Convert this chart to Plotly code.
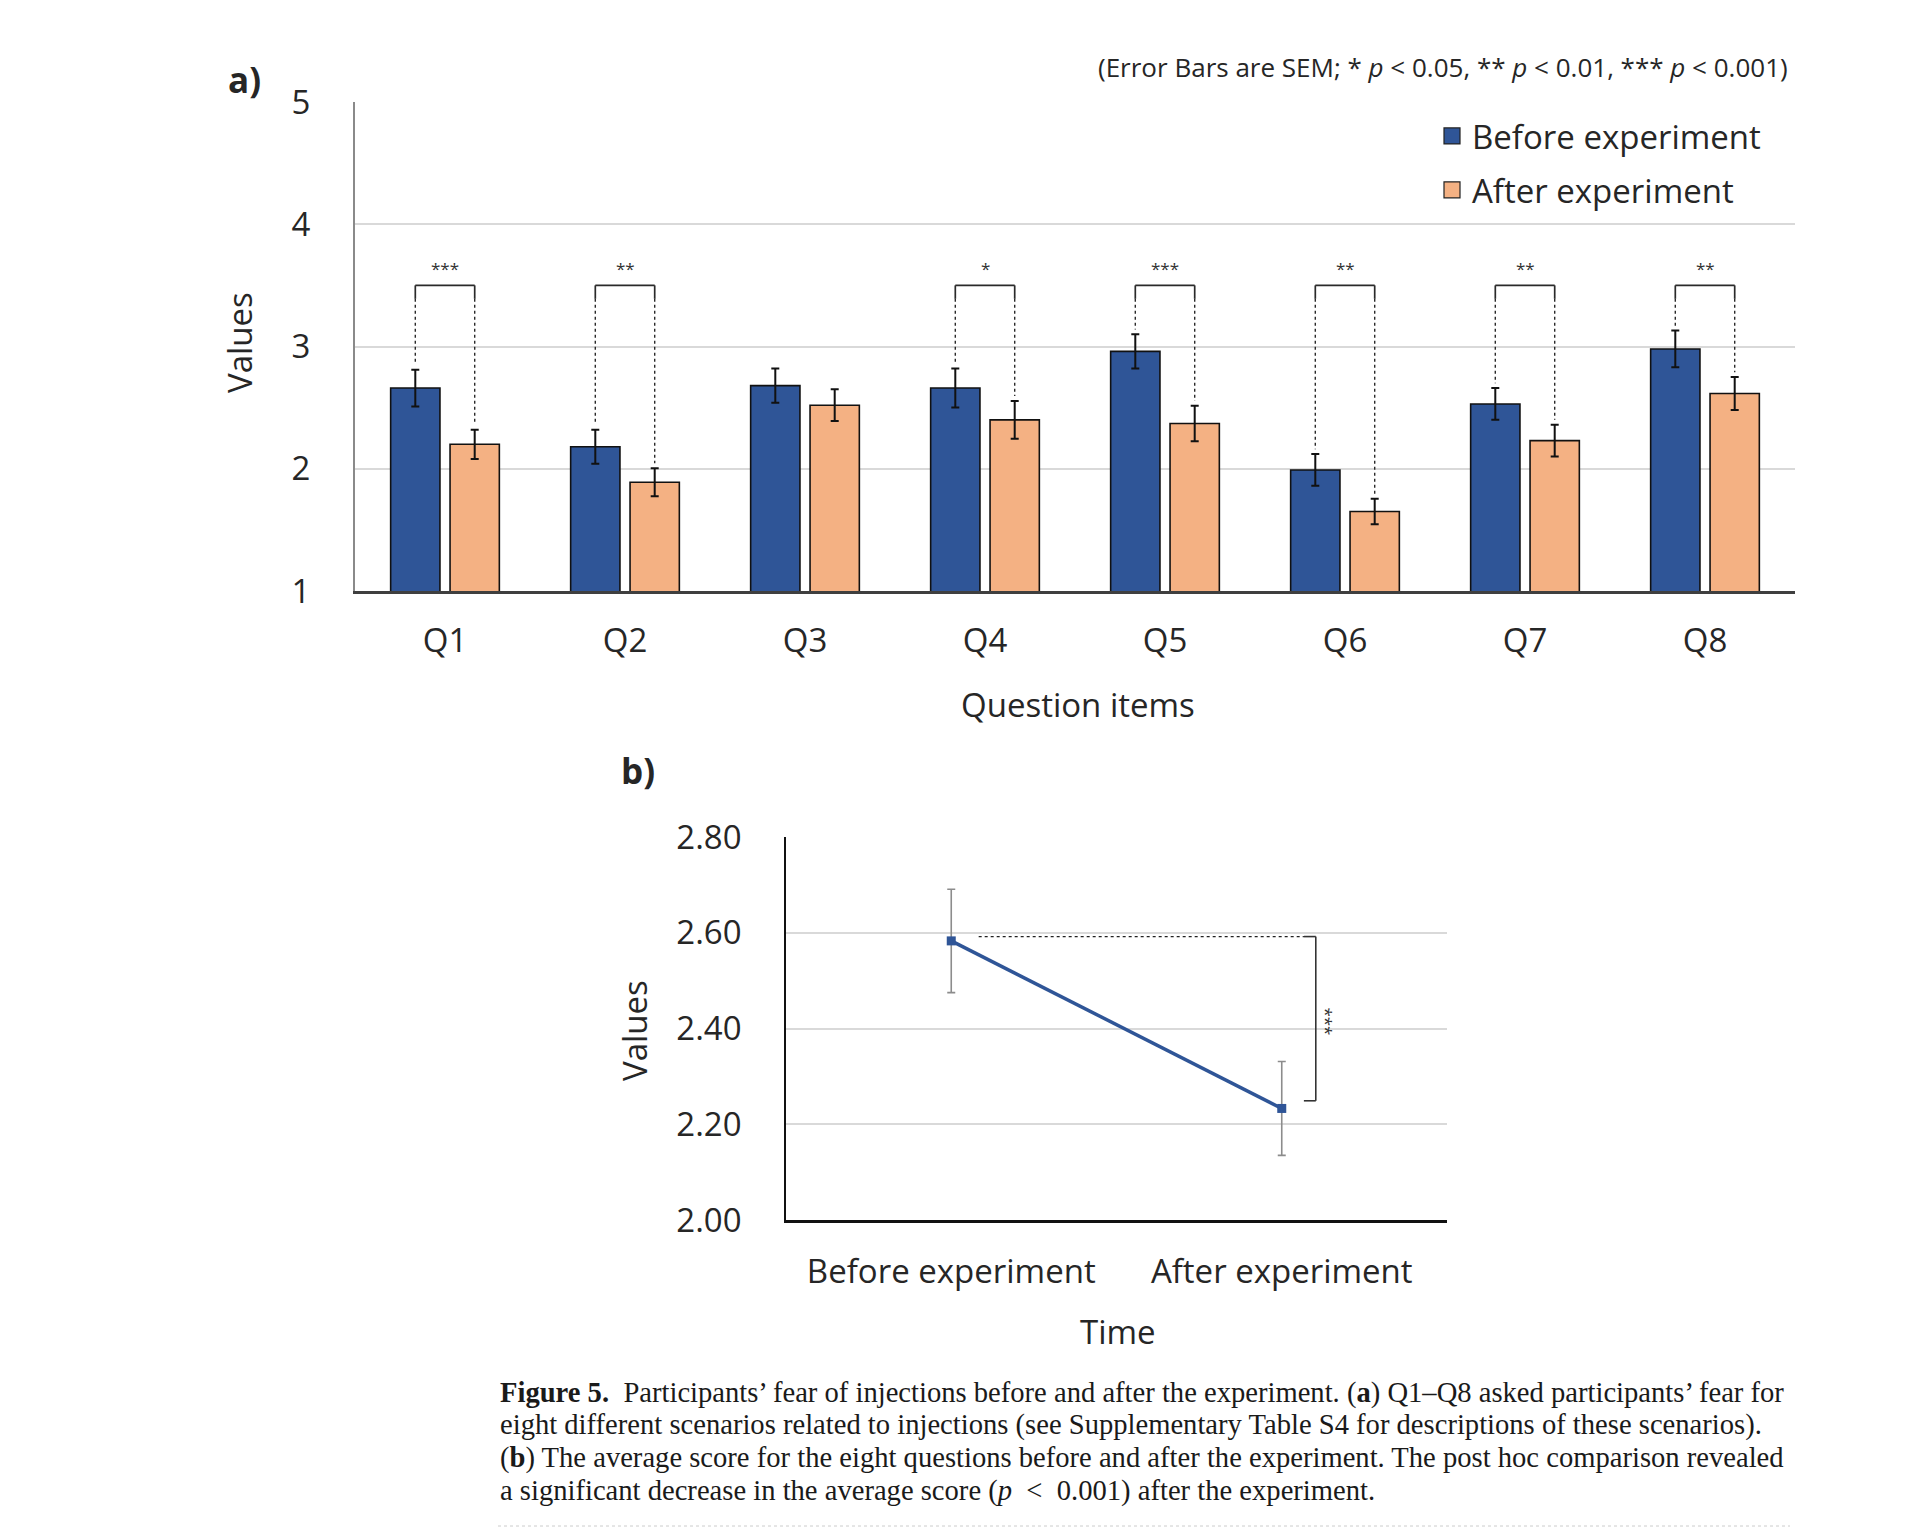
import plotly.graph_objects as go

# ---------------- data ----------------
questions = ["Q1", "Q2", "Q3", "Q4", "Q5", "Q6", "Q7", "Q8"]
before_vals = [2.66, 2.18, 2.68, 2.66, 2.96, 1.99, 2.53, 2.98]
before_sem = [0.15, 0.14, 0.14, 0.16, 0.14, 0.13, 0.13, 0.15]
after_vals = [2.20, 1.89, 2.52, 2.40, 2.37, 1.65, 2.23, 2.615]
after_sem = [0.12, 0.115, 0.13, 0.155, 0.145, 0.105, 0.13, 0.135]
sig_labels = ["***", "**", "", "*", "***", "**", "**", "**"]

time_labels = ["Before experiment", "After experiment"]
mean_vals = [2.583, 2.233]
mean_sem = [0.108, 0.098]
mean_sig = "***"

a_ticks = [1, 2, 3, 4, 5]
b_ticks = [2.0, 2.2, 2.4, 2.6, 2.8]

# ---------------- style ----------------
W, H = 1920, 1529
BLUE = "#2F5597"
ORANGE = "#F4B183"
TXT = "#262626"
GRID = "#d9d9d9"
FONT = "Open Sans"
FS = 33
BARGAP = 0.34
GROUPGAP = 0.17


def px_x(p):
    return p / W


def px_y(p):
    return 1 - p / H


fig = go.Figure()

fig.add_trace(go.Bar(
    x=questions, y=before_vals, name="Before experiment",
    marker=dict(color=BLUE, line=dict(color="#111111", width=1.6)),
    error_y=dict(type="data", array=before_sem, color="#111111", thickness=2, width=4),
    xaxis="x", yaxis="y", legendgroup="b", showlegend=False,
))
fig.add_trace(go.Bar(
    x=questions, y=after_vals, name="After experiment",
    marker=dict(color=ORANGE, line=dict(color="#111111", width=1.6)),
    error_y=dict(type="data", array=after_sem, color="#111111", thickness=2, width=4),
    xaxis="x", yaxis="y", legendgroup="a", showlegend=False,
))
# legend entries (square swatches)
for nm, col, grp in [("Before experiment", BLUE, "b"), ("After experiment", ORANGE, "a")]:
    fig.add_trace(go.Scatter(
        x=[None], y=[None], mode="markers", name=nm, legendgroup=grp,
        marker=dict(symbol="square", size=16, color=col, line=dict(color="#222222", width=1.2)),
        xaxis="x", yaxis="y", showlegend=True,
    ))

fig.add_trace(go.Scatter(
    x=time_labels, y=mean_vals, mode="lines+markers", showlegend=False,
    line=dict(color=BLUE, width=3.5),
    marker=dict(symbol="square", size=9, color=BLUE),
    error_y=dict(type="data", array=mean_sem, color="#8c8c8c", thickness=1.6, width=4),
    xaxis="x2", yaxis="y2",
))

shapes = []
annotations = []

# significance brackets panel a
off = (1 - BARGAP) / 4
top = 3.5
solid_end = 3.39
for i, lab in enumerate(sig_labels):
    if not lab:
        continue
    xb, xa = i - off, i + off
    ln = dict(color="#2a2a2a", width=1.7)
    shapes.append(dict(type="line", xref="x", yref="y", x0=xb, x1=xa, y0=top, y1=top, line=ln))
    shapes.append(dict(type="line", xref="x", yref="y", x0=xb, x1=xb, y0=top, y1=solid_end, line=ln))
    shapes.append(dict(type="line", xref="x", yref="y", x0=xa, x1=xa, y0=top, y1=solid_end, line=ln))
    dl = dict(color="#2a2a2a", width=1.4, dash="dot")
    shapes.append(dict(type="line", xref="x", yref="y", x0=xb, x1=xb, y0=solid_end,
                       y1=before_vals[i] + before_sem[i] + 0.04, line=dl))
    shapes.append(dict(type="line", xref="x", yref="y", x0=xa, x1=xa, y0=solid_end,
                       y1=after_vals[i] + after_sem[i] + 0.04, line=dl))
    annotations.append(dict(xref="x", yref="y", x=i, y=3.64, text=lab, showarrow=False,
                            font=dict(family=FONT, size=17, color="#333333")))

# significance bracket panel b
b_top = mean_vals[0] + 0.009
b_bot = mean_vals[1] + 0.016
xv = 1.103
xt = 1.067
shapes.append(dict(type="line", xref="x2", yref="y2", x0=0.083, x1=xt, y0=b_top, y1=b_top,
                   line=dict(color="#222222", width=1.4, dash="dot")))
for (x0, x1, y0, y1) in [(xt, xv, b_top, b_top), (xv, xv, b_top, b_bot), (xt, xv, b_bot, b_bot)]:
    shapes.append(dict(type="line", xref="x2", yref="y2", x0=x0, x1=x1, y0=y0, y1=y1,
                       line=dict(color="#333333", width=1.6)))
annotations.append(dict(xref="x2", yref="y2", x=1.136, y=(b_top + b_bot) / 2 - 0.005, text=mean_sig,
                        textangle=90, showarrow=False, font=dict(family=FONT, size=17, color="#333333")))

# bottom faint dotted rule
shapes.append(dict(type="line", xref="paper", yref="paper", x0=px_x(498), x1=px_x(1790),
                   y0=px_y(1526), y1=px_y(1526), line=dict(color="#cccccc", width=1, dash="dot")))


def txt(x, y, s, size=FS, xanchor="center", yanchor="middle", angle=0, family=FONT, color=TXT):
    annotations.append(dict(xref="paper", yref="paper", x=px_x(x), y=px_y(y), text=s,
                            showarrow=False, xanchor=xanchor, yanchor=yanchor, textangle=angle,
                            font=dict(family=family, size=size, color=color)))


txt(244, 80, "<b>a)</b>", size=35)
txt(638, 770, "<b>b)</b>", size=35)
txt(1790, 67, "(Error Bars are SEM; * <i>p</i> &lt; 0.05, ** <i>p</i> &lt; 0.01, *** <i>p</i> &lt; 0.001)",
    size=26, xanchor="right")
txt(239, 343, "Values", angle=-90)
txt(1078, 704, "Question items")
txt(634, 1031, "Values", angle=-90)
txt(1118, 1331, "Time")

SERIF = "Liberation Serif"
cap_lines = [
    "<b>Figure 5.</b>  Participants’ fear of injections before and after the experiment. (<b>a</b>) Q1–Q8 asked participants’ fear for",
    "eight different scenarios related to injections (see Supplementary Table S4 for descriptions of these scenarios).",
    "(<b>b</b>) The average score for the eight questions before and after the experiment. The post hoc comparison revealed",
    "a significant decrease in the average score (<i>p</i>  &lt;  0.001) after the experiment.",
]
for k, line in enumerate(cap_lines):
    txt(498, [1393, 1425, 1458, 1491][k], line, size=28.6, xanchor="left", family=SERIF, color="#1a1a1a")

fig.update_layout(
    width=W, height=H,
    margin=dict(l=0, r=0, t=0, b=0, pad=0, autoexpand=False),
    paper_bgcolor="white", plot_bgcolor="white",
    barmode="group", bargap=BARGAP, bargroupgap=GROUPGAP,
    font=dict(family=FONT, color=TXT),
    shapes=shapes, annotations=annotations,
    showlegend=True,
    legend=dict(x=px_x(1432), y=px_y(108), xanchor="left", yanchor="top",
                font=dict(family=FONT, size=FS, color=TXT), bgcolor="rgba(0,0,0,0)",
                traceorder="grouped", tracegroupgap=8, itemclick=False),
    xaxis=dict(domain=[px_x(355), px_x(1795)], anchor="y", type="category", automargin=False,
               showline=True, linecolor="#3f3f3f", linewidth=2.5, showgrid=False,
               ticks="outside", ticklen=19, tickcolor="rgba(0,0,0,0)",
               tickfont=dict(family=FONT, size=FS, color=TXT), fixedrange=True),
    yaxis=dict(domain=[px_y(591), px_y(102)], anchor="x", range=[1, 5], tickvals=a_ticks,
               automargin=False,
               showline=True, linecolor="#8a8a8a", linewidth=2, showgrid=True, gridcolor=GRID,
               gridwidth=2, zeroline=False,
               ticks="outside", ticklen=36, tickcolor="rgba(0,0,0,0)",
               tickfont=dict(family=FONT, size=FS, color=TXT), fixedrange=True),
    xaxis2=dict(domain=[px_x(786), px_x(1447)], anchor="y2", type="category", range=[-0.5, 1.5],
                automargin=False,
                showline=True, linecolor="#111111", linewidth=2.5, showgrid=False,
                ticks="outside", ticklen=21, tickcolor="rgba(0,0,0,0)",
                tickfont=dict(family=FONT, size=FS, color=TXT), fixedrange=True),
    yaxis2=dict(domain=[px_y(1220), px_y(837)], anchor="x2", range=[2.0, 2.8], tickvals=b_ticks,
                tickformat=".2f", showline=True, linecolor="#111111", linewidth=1.6,
                automargin=False,
                showgrid=True, gridcolor=GRID, gridwidth=2, zeroline=False,
                ticks="outside", ticklen=36, tickcolor="rgba(0,0,0,0)",
                tickfont=dict(family=FONT, size=FS, color=TXT), fixedrange=True),
)

fig.write_html("out.html")
